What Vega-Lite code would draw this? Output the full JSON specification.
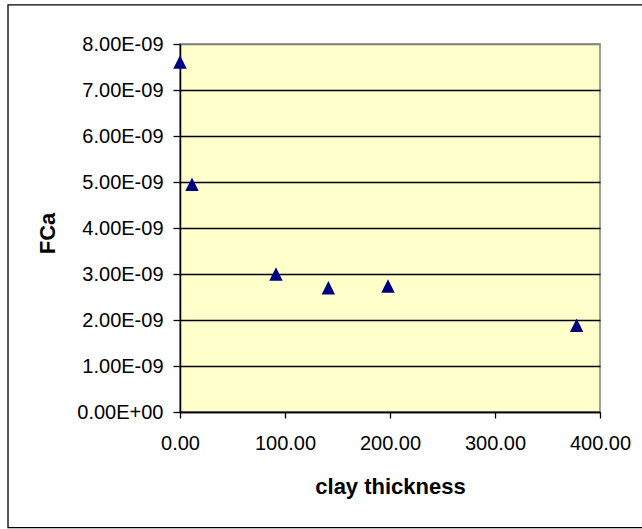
{
  "$schema": "https://vega.github.io/schema/vega-lite/v6.json",
  "autosize": "none",
  "padding": {"left": 180, "top": 44, "right": 42, "bottom": 117},
  "width": 420,
  "height": 368,
  "background": "white",
  "config": {
    "font": "Liberation Sans",
    "view": {"fill": "#FFFFCC", "stroke": "#808080", "strokeWidth": 1.5}
  },
  "layer": [
    {
      "data": {"values": [{"frame": "outer"}]},
      "mark": {"type": "rect", "fill": null, "stroke": "black", "strokeWidth": 1.3, "clip": false},
      "encoding": {
        "x": {"datum": -163.8, "type": "quantitative"},
        "x2": {"datum": 460},
        "y": {"datum": 8.85e-9, "type": "quantitative"},
        "y2": {"datum": -2.515e-9}
      }
    },
    {
      "data": {"values": [
        {"thickness": 0, "FCa": 7.61e-9},
        {"thickness": 11.4, "FCa": 4.95e-9},
        {"thickness": 91.4, "FCa": 3.0e-9},
        {"thickness": 141.3, "FCa": 2.70e-9},
        {"thickness": 198.1, "FCa": 2.74e-9},
        {"thickness": 377.8, "FCa": 1.885e-9}
      ]},
      "mark": {"type": "point", "shape": "M-1,1L1,1L0,-1Z", "filled": true, "size": 180, "color": "#000080", "opacity": 1, "clip": false},
      "encoding": {
        "x": {
          "field": "thickness", "type": "quantitative",
          "scale": {"domain": [0, 400], "nice": false, "zero": false},
          "axis": {
            "title": "clay thickness",
            "values": [0, 100, 200, 300, 400],
            "format": ".2f",
            "grid": false,
            "labelFlush": false,
            "labelOverlap": false,
            "labelBound": false,
            "domainColor": "black", "domainWidth": 1.5,
            "tickColor": "black", "tickSize": 6, "tickWidth": 1.3,
            "labelFontSize": 20, "labelColor": "black", "labelPadding": 15, "labelFont": "Liberation Sans",
            "titleFontSize": 22, "titleFontWeight": "bold", "titleColor": "black", "titlePadding": 23, "titleFont": "Liberation Sans"
          }
        },
        "y": {
          "field": "FCa", "type": "quantitative",
          "scale": {"domain": [0, 8e-9], "nice": false, "zero": true},
          "axis": {
            "title": "FCa",
            "values": [0, 1e-9, 2e-9, 3e-9, 4e-9, 5e-9, 6e-9, 7e-9, 8e-9],
            "labelExpr": "datum.value == 0 ? '0.00E+00' : format(datum.value * 1e9, '.2f') + 'E-09'",
            "labelOverlap": false,
            "labelBound": false,
            "labelFlush": false,
            "grid": true,
            "gridColor": {"condition": {"test": "datum.value >= 7.9e-9", "value": "#808080"}, "value": "black"},
            "gridWidth": 1.3,
            "domainColor": "black", "domainWidth": 1.5,
            "tickColor": "black", "tickSize": 7, "tickWidth": 1.3,
            "labelFontSize": 20, "labelColor": "black", "labelPadding": 10, "labelFont": "Liberation Sans",
            "titleFontSize": 22, "titleFontWeight": "bold", "titleColor": "black", "titlePadding": 17, "titleFont": "Liberation Sans",
            "titleY": 189
          }
        }
      }
    }
  ]
}
